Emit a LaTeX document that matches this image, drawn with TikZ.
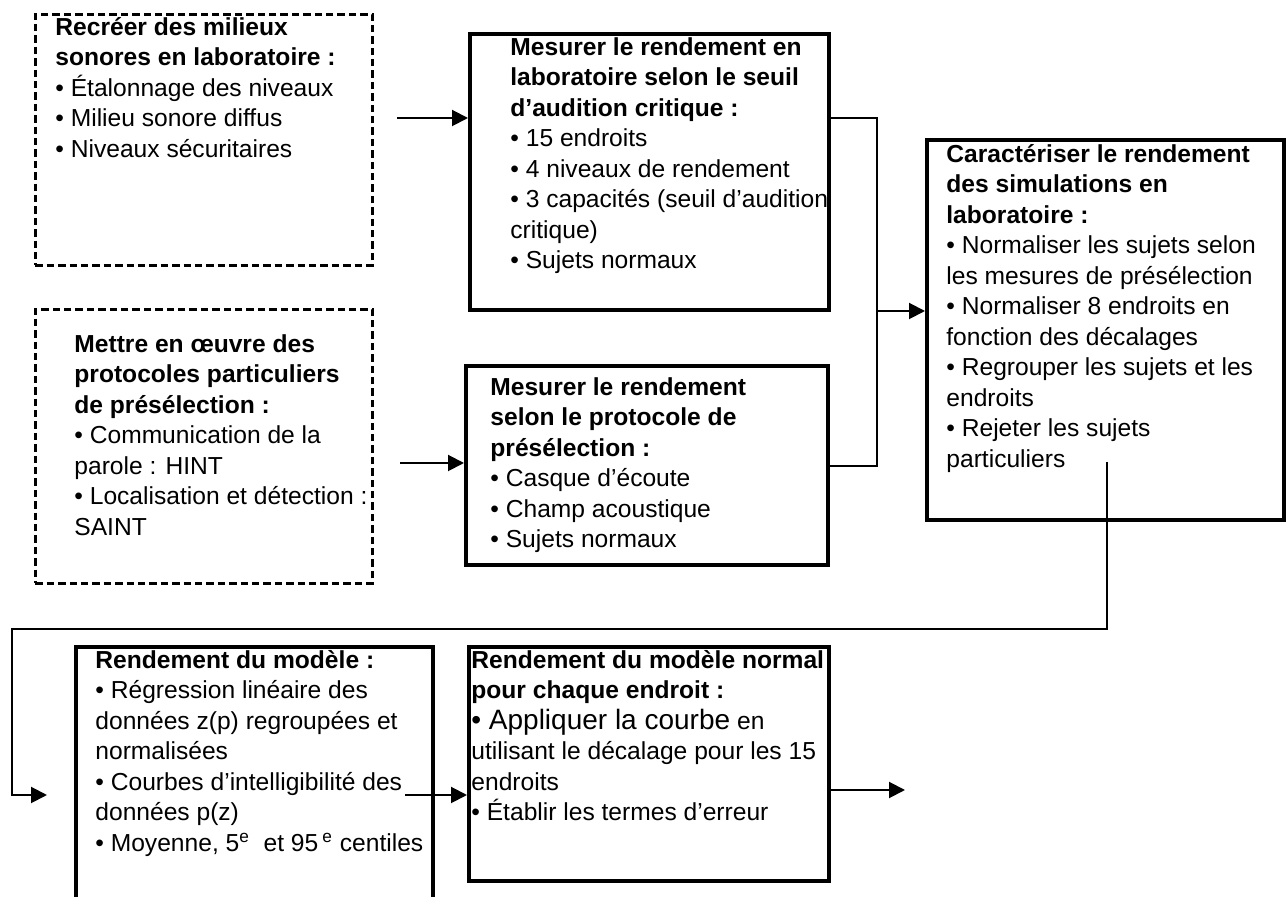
\documentclass[tikz,border=0pt]{standalone}
\usepackage{fontspec}
\setmainfont{Liberation Sans}
\usetikzlibrary{arrows.meta,positioning}
\newcommand{\boxfont}{\fontsize{12.3}{15.25}\selectfont}
\newcommand{\topstrut}{\rule{0pt}{12pt}}

\begin{document}
\begin{tikzpicture}[>={Triangle[length=8pt,width=8pt]},x=0.5pt,y=-0.5pt]
  \tikzstyle{frame}=[draw,line width=2.2pt,anchor=north west,inner sep=0pt]
  \tikzstyle{dframe}=[draw,line width=1.3pt,dash pattern=on 3.7pt off 2pt,anchor=north west,inner sep=0pt]
  \tikzstyle{txt}=[font=\boxfont,align=left,inner sep=0pt,anchor=north west]
  \tikzstyle{conn}=[line width=1pt]
  \useasboundingbox (0,0) rectangle (1287,897);
  \clip (0,0) rectangle (1287,897);
  % cadres
  \node[dframe,minimum width=168.5pt,minimum height=125.5pt] (milieux) at (34,13) {};
  \node[dframe,minimum width=168.5pt,minimum height=137pt] (proto) at (34,308) {};
  \node[frame,minimum width=179.5pt,minimum height=138pt] (seuil) at (468,32) {};
  \node[frame,minimum width=181pt,minimum height=99.5pt] (presel) at (464,364) {};
  \node[frame,minimum width=178.5pt,minimum height=190pt] (caract) at (925,138) {};
  \node[frame,minimum width=178.5pt,minimum height=150pt] (modele) at (74,645) {};
  \node[frame,minimum width=180pt,minimum height=117pt] (normal) at (467,645) {};
  % textes
  \node[txt,below right=-1pt and 10.5pt of milieux.north west] (milieuxT) {\topstrut\textbf{Recréer des milieux}\\\textbf{sonores en laboratoire :}\\• Étalonnage des niveaux\\• Milieu sonore diffus\\• Niveaux sécuritaires};
  \node[txt,below right=10pt and 20pt of proto.north west] (protoT) {\topstrut\textbf{Mettre en œuvre des}\\\textbf{protocoles particuliers}\\\textbf{de présélection :}\\• Communication de la\\parole : HINT\\• Localisation et détection :\\SAINT};
  \node[txt,below right=-0.5pt and 21pt of seuil.north west] (seuilT) {\topstrut\textbf{Mesurer le rendement en}\\\textbf{laboratoire selon le seuil}\\\textbf{d’audition critique :}\\• 15 endroits\\• 4 niveaux de rendement\\• 3 capacités (seuil d’audition\\critique)\\• Sujets normaux};
  \node[txt,below right=3.5pt and 13pt of presel.north west] (preselT) {\topstrut\textbf{Mesurer le rendement}\\\textbf{selon le protocole de}\\\textbf{présélection :}\\• Casque d’écoute\\• Champ acoustique\\• Sujets normaux};
  \node[txt,below right=0pt and 10.5pt of caract.north west] (caractT) {\topstrut\textbf{Caractériser le rendement}\\\textbf{des simulations en}\\\textbf{laboratoire :}\\• Normaliser les sujets selon\\les mesures de présélection\\• Normaliser 8 endroits en\\fonction des décalages\\• Regrouper les sujets et les\\endroits\\• Rejeter les sujets\\particuliers};
  \node[txt,below right=-0.5pt and 10.5pt of modele.north west] (modeleT) {\topstrut\textbf{Rendement du modèle :}\\• Régression linéaire des\\données z(p) regroupées et\\normalisées\\• Courbes d’intelligibilité des\\données p(z)\\• Moyenne, 5\textsuperscript{e}~ et 95\,\textsuperscript{e} centiles};
  \node[txt,below right=-0.5pt and 2pt of normal.north west] (normalT) {\topstrut\textbf{Rendement du modèle normal}\\\textbf{pour chaque endroit :}\\{\fontsize{14}{15.25}\selectfont • Appliquer la courbe} en\\utilisant le décalage pour les 15\\endroits\\• Établir les termes d’erreur};
  % liaisons
  \coordinate (s1) at (397,118);
  \coordinate (s2) at (400,463);
  \coordinate (j1) at (877,118);
  \coordinate (j2) at (877,311);
  \coordinate (r1) at (1107,462);
  \coordinate (r2) at (12,629);
  \coordinate (r3) at (47,795);
  \coordinate (s3) at (405,795);
  \coordinate (s4) at (905,790);
  \draw[conn,->] (s1) -- (s1 -| seuil.west);
  \draw[conn,->] (s2) -- (s2 -| presel.west);
  \draw[conn] (j1 -| seuil.east) -- (j1) -- (j1 |- presel.east) -- (presel.east);
  \draw[conn,->] (j2) -- (j2 -| caract.west);
  \draw[conn,->] (r1) -- (r1 |- r2) -- (r2) -- (r2 |- r3) -- (r3);
  \draw[conn,->] (s3) -- (s3 -| normal.west);
  \draw[conn,->] (s4 -| normal.east) -- (s4);
\end{tikzpicture}
\end{document}
